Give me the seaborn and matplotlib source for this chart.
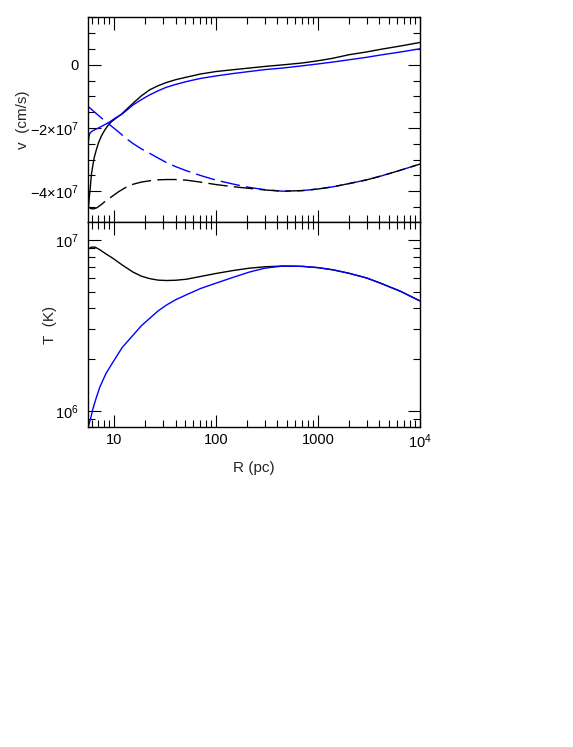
import seaborn as sns
import matplotlib
matplotlib.use("Agg")
import matplotlib.pyplot as plt
import matplotlib.ticker as mticker
import numpy as np

sns.set_theme(style="ticks")
plt.rcParams['font.family'] = ['Liberation Sans', 'DejaVu Sans']
plt.rcParams['mathtext.fontset'] = 'custom'
plt.rcParams['mathtext.rm'] = 'Liberation Sans'
plt.rcParams['mathtext.it'] = 'Liberation Sans:italic'
plt.rcParams['mathtext.bf'] = 'Liberation Sans:bold'

# =====================
# DATA
# =====================
# top panel: velocity (cm/s)
r_v_black = [5.6, 5.7, 5.8, 5.9, 6.0, 6.2, 6.4, 6.7, 7.0, 7.5, 8.1, 8.7, 9.4, 10.5, 11.8, 13.5,
             15.5, 18.5, 22.3, 27, 32.5, 40, 51, 70, 100, 150, 212, 300, 449, 700, 1000, 1400,
             2000, 3000, 4240, 6500, 10000]
v_black = [-4.5e7, -4.2e7, -3.97e7, -3.7e7, -3.44e7, -3.15e7, -2.91e7, -2.68e7, -2.48e7, -2.25e7,
           -2.06e7, -1.92e7, -1.8e7, -1.68e7, -1.56e7, -1.38e7, -1.2e7, -0.98e7, -0.79e7, -0.66e7,
           -0.56e7, -0.47e7, -0.39e7, -0.29e7, -0.21e7, -0.15e7, -0.1e7, -0.05e7, 0.0, 0.06e7,
           0.13e7, 0.21e7, 0.32e7, 0.41e7, 0.5e7, 0.6e7, 0.71e7]

r_v_blue = [5.57, 5.65, 5.75, 5.9, 6.2, 7.0, 8.0, 9.1, 10.3, 11.8, 13.5, 15.3, 18.5, 22.3, 27,
            32.5, 40, 51, 70, 100, 150, 212, 300, 449, 700, 1000, 1400, 2000, 3000, 4240, 6500,
            10000]
v_blue = [-2.47e7, -2.3e7, -2.18e7, -2.13e7, -2.08e7, -2.0e7, -1.9e7, -1.8e7, -1.68e7, -1.57e7,
          -1.42e7, -1.27e7, -1.1e7, -0.95e7, -0.82e7, -0.71e7, -0.62e7, -0.53e7, -0.43e7,
          -0.35e7, -0.27e7, -0.21e7, -0.15e7, -0.1e7, -0.03e7, 0.03e7, 0.09e7, 0.16e7, 0.24e7,
          0.32e7, 0.41e7, 0.51e7]

r_c_blue = [5.57, 6.2, 7.25, 8.3, 9.5, 11.5, 13, 15.3, 18.5, 22.3, 27, 32.5, 40, 51, 70, 100,
            150, 212, 300, 449, 700, 1000, 1400, 2000, 3000, 4240, 6500, 10000]
c_blue = [-1.32e7, -1.45e7, -1.64e7, -1.8e7, -1.95e7, -2.17e7, -2.32e7, -2.49e7, -2.66e7,
          -2.8e7, -2.95e7, -3.09e7, -3.22e7, -3.35e7, -3.5e7, -3.65e7, -3.78e7, -3.88e7,
          -3.95e7, -4.0e7, -3.98e7, -3.93e7, -3.86e7, -3.76e7, -3.64e7, -3.51e7, -3.33e7,
          -3.14e7]

r_c_black = [5.6, 5.9, 6.3, 6.8, 7.5, 8.3, 9.4, 11, 13, 15.3, 18.5, 22.3, 27, 32.5, 40, 51, 70,
             100, 150, 212, 300, 449, 700, 1000, 1400, 2000, 3000, 4240, 6500, 10000]
c_black = [-4.5e7, -4.55e7, -4.56e7, -4.52e7, -4.42e7, -4.3e7, -4.18e7, -4.02e7, -3.88e7,
           -3.78e7, -3.71e7, -3.67e7, -3.64e7, -3.63e7, -3.63e7, -3.65e7, -3.71e7, -3.79e7,
           -3.86e7, -3.91e7, -3.96e7, -4.0e7, -3.98e7, -3.93e7, -3.86e7, -3.76e7, -3.64e7,
           -3.51e7, -3.33e7, -3.14e7]

# bottom panel: temperature (K)
r_t_black = [5.6, 6.0, 6.5, 7.2, 8.2, 9.8, 12, 15.3, 18.5, 22.3, 27, 32.5, 40, 51, 70, 100, 150,
             212, 300, 449, 700, 1000, 1400, 2000, 3000, 4240, 6500, 10000]
t_black = [8.9e6, 9.1e6, 9.1e6, 8.8e6, 8.35e6, 7.8e6, 7.15e6, 6.5e6, 6.15e6, 5.95e6, 5.83e6,
           5.8e6, 5.82e6, 5.9e6, 6.12e6, 6.38e6, 6.65e6, 6.85e6, 6.98e6, 7.05e6, 7.02e6, 6.9e6,
           6.7e6, 6.4e6, 6.0e6, 5.55e6, 5.0e6, 4.4e6]

r_t_blue = [5.57, 5.9, 6.2, 6.7, 7.25, 8.3, 9.8, 12, 15.3, 18.5, 22.3, 27, 32.5, 40, 51, 70, 100,
            150, 212, 300, 449, 700, 1000, 1400, 2000, 3000, 4240, 6500, 10000]
t_blue = [8.0e5, 9.1e5, 1.03e6, 1.2e6, 1.38e6, 1.65e6, 1.94e6, 2.35e6, 2.77e6, 3.15e6, 3.48e6,
          3.85e6, 4.16e6, 4.47e6, 4.78e6, 5.2e6, 5.6e6, 6.08e6, 6.5e6, 6.85e6, 7.05e6, 7.02e6,
          6.9e6, 6.7e6, 6.4e6, 6.0e6, 5.55e6, 5.0e6, 4.4e6]

x_ticks = [10, 100, 1000, 10000]
x_ticklabels = ['10', '100', '1000', r'$10^4$']
v_ticks = [0, -2e7, -4e7]
v_ticklabels = ['0', r'$-2{\times}10^7$', r'$-4{\times}10^7$']

color_black = '#000000'
color_blue = '#0000ff'
dash = (0, (14, 4.5))

fig = plt.figure(figsize=(5.73, 7.47), dpi=100)
ax1 = fig.add_axes([0.154, 0.703, 0.579, 0.274])
ax2 = fig.add_axes([0.154, 0.428, 0.579, 0.275])

# =====================
# TOP: velocity
# =====================
sns.lineplot(x=r_v_black, y=v_black, color=color_black, lw=1.0, ax=ax1)
sns.lineplot(x=r_v_blue, y=v_blue, color=color_blue, lw=1.0, ax=ax1)
sns.lineplot(x=r_c_blue, y=c_blue, color=color_blue, lw=1.0, ls=dash, ax=ax1)
sns.lineplot(x=r_c_black, y=c_black, color=color_black, lw=1.0, ls=dash, ax=ax1)

# =====================
# BOTTOM: temperature
# =====================
sns.lineplot(x=r_t_black, y=t_black, color=color_black, lw=1.0, ax=ax2)
sns.lineplot(x=r_t_blue, y=t_blue, color=color_blue, lw=1.0, ax=ax2)

for ax in (ax1, ax2):
    ax.set_xscale('log')
    ax.set_xlim(5.57, 1e4)
    ax.tick_params(which='both', direction='in', top=True, right=True, colors='black',
                   labelsize=10.5)
    ax.tick_params(axis='x', pad=4)
    ax.tick_params(axis='y', pad=7)
    ax.tick_params(which='major', length=9, width=0.8)
    ax.tick_params(which='minor', length=5, width=0.8)
    for s in ax.spines.values():
        s.set_linewidth(1.0)
        s.set_color('black')
    ax.xaxis.set_major_locator(mticker.FixedLocator(x_ticks))
    ax.xaxis.set_minor_locator(mticker.LogLocator(base=10, subs=np.arange(2, 10)))
    ax.xaxis.set_minor_formatter(mticker.NullFormatter())

ax1.set_ylim(-4.97e7, 1.51e7)
ax1.yaxis.set_major_locator(mticker.FixedLocator(v_ticks))
ax1.yaxis.set_major_formatter(mticker.FixedFormatter(v_ticklabels))
ax1.yaxis.set_minor_locator(mticker.MultipleLocator(0.5e7))
ax1.xaxis.set_major_formatter(mticker.NullFormatter())
ax1.set_ylabel('v  (cm/s)', fontsize=11)
ax1.yaxis.set_label_coords(-0.176, 0.5)
ax1.set_xlabel('')

ax2.set_yscale('log')
ax2.set_ylim(8.0e5, 1.28e7)
ax2.yaxis.set_minor_locator(mticker.LogLocator(base=10, subs=np.arange(2, 10)))
ax2.yaxis.set_minor_formatter(mticker.NullFormatter())
ax2.xaxis.set_major_formatter(mticker.FixedFormatter(x_ticklabels))
ax2.set_ylabel('T  (K)', fontsize=11)
ax2.yaxis.set_label_coords(-0.094, 0.5)
ax2.set_xlabel('R (pc)', fontsize=11)
ax2.xaxis.set_label_coords(0.5, -0.164)

fig.savefig('out.png', dpi=100)
